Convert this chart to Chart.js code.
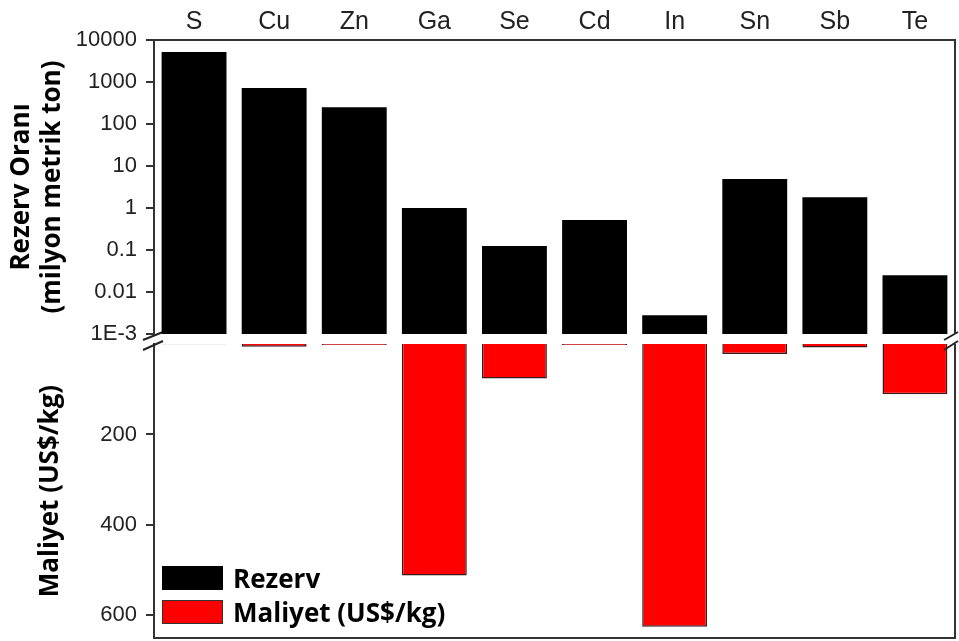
<!DOCTYPE html>
<html>
<head>
<meta charset="utf-8">
<script src="https://cdn.jsdelivr.net/npm/chart.js@4.4.1/dist/chart.umd.min.js"></script>
<style>
  html, body { margin: 0; padding: 0; background: #fff; }
  #wrap { position: relative; width: 959px; height: 641px; overflow: hidden; }
  #wrap canvas { position: absolute; left: 0; top: 0; }
  #legend { position: absolute; left: 162px; top: 561px;
            font-family: "Open Sans", Lato, sans-serif; font-weight: bold; font-size: 26px; color: #000; }
  .item { display: flex; align-items: center; height: 34px; line-height: 34px; }
  .swatch { width: 61px; height: 24px; margin-right: 10px; box-sizing: border-box; }
</style>
</head>
<body>
<div id="wrap">
  <canvas id="costChart" width="959" height="641"></canvas>
  <canvas id="reserveChart" width="959" height="641"></canvas>
  <div id="legend"></div>
</div>
<script>
// Elements along the shared category axis
const elements = ['S', 'Cu', 'Zn', 'Ga', 'Se', 'Cd', 'In', 'Sn', 'Sb', 'Te'];

// Reserves, million metric tonnes (log scale)
const reserves = [5200, 720, 250, 1.0, 0.125, 0.52, 0.0028, 4.9, 1.8, 0.025];

// Cost, US$/kg
const costs = [0.5, 6, 2, 512, 76, 2, 625, 22, 8, 111];

// Tick values and their printed labels
const reserveTicks = [0.001, 0.01, 0.1, 1, 10, 100, 1000, 10000];
const reserveTickLabels = ['1E-3', '0.01', '0.1', '1', '10', '100', '1000', '10000'];
const costTicks = [200, 400, 600];

const reserveLabel = 'Rezerv';
const costLabel = 'Maliyet (US$/kg)';
const reserveTitle = ['Rezerv Oranı', '(milyon metrik ton)'];
const costTitle = 'Maliyet (US$/kg)';

const AXIS = '#333';
const TICK_FONT = { family: '"Liberation Sans", Arial, sans-serif', size: 22 };
const TITLE_FONT = { family: '"Open Sans", Lato, sans-serif', size: 26, weight: 'bold', lineHeight: 1.2 };

// Fixed axis width, and no extra room reserved for the end labels
function fixLeftAxis(s) {
  s.width = 154;
  s.paddingTop = 0;
  s.paddingBottom = 0;
}

// Draws the right-hand edge of the plot frame
const rightEdge = {
  id: 'rightEdge',
  afterDraw(chart) {
    const { ctx, chartArea: a } = chart;
    ctx.save();
    ctx.strokeStyle = AXIS;
    ctx.lineWidth = 2;
    ctx.beginPath();
    ctx.moveTo(a.right, a.top);
    ctx.lineTo(a.right, a.bottom);
    ctx.stroke();
    ctx.restore();
  }
};

// Axis-break marks between the two panels
const breakMarks = {
  id: 'breakMarks',
  afterDraw(chart) {
    const { ctx, chartArea: a } = chart;
    ctx.save();
    ctx.strokeStyle = '#222';
    ctx.lineWidth = 2;
    [[a.left, -11, 9], [a.right, -11, 3]].forEach(([x, dx0, dx1]) => {
      [[a.top - 4, a.top - 12], [a.top + 6, a.top - 3]].forEach(([y0, y1]) => {
        ctx.beginPath();
        ctx.moveTo(x + dx0, y0);
        ctx.lineTo(x + dx1, y1);
        ctx.stroke();
      });
    });
    ctx.restore();
  }
};

// Upper panel: reserves on a logarithmic axis, categories printed on top
new Chart(document.getElementById('reserveChart'), {
  type: 'bar',
  data: {
    labels: elements,
    datasets: [{
      label: reserveLabel,
      data: reserves,
      backgroundColor: '#000',
      borderWidth: 0,
      barPercentage: 0.81,
      categoryPercentage: 1
    }]
  },
  options: {
    responsive: false,
    animation: false,
    layout: { autoPadding: false, padding: { left: 0, right: 4, top: 0, bottom: 307 } },
    plugins: { legend: { display: false }, tooltip: { enabled: false } },
    scales: {
      x: {
        position: 'top',
        grid: { drawOnChartArea: false, drawTicks: false },
        border: { display: true, color: AXIS, width: 2 },
        ticks: { font: { family: TICK_FONT.family, size: 25 }, color: '#222', padding: 3, maxRotation: 0 },
        afterFit(s) { s.height = 40; }
      },
      y: {
        type: 'logarithmic',
        min: 0.001,
        max: 10000,
        afterBuildTicks(s) { s.ticks = reserveTicks.map(v => ({ value: v })); },
        ticks: {
          font: TICK_FONT, color: '#222', padding: 9,
          callback: (v, i) => reserveTickLabels[i]
        },
        grid: { drawOnChartArea: false, drawTicks: true, tickLength: 8, color: AXIS, lineWidth: 2 },
        border: { display: true, color: AXIS, width: 2 },
        title: { display: true, text: reserveTitle, font: TITLE_FONT, color: '#000', padding: { top: 6, bottom: 0 } },
        afterFit: fixLeftAxis
      }
    }
  },
  plugins: [rightEdge]
});

// Lower panel: cost on a linear axis growing downward
new Chart(document.getElementById('costChart'), {
  type: 'bar',
  data: {
    labels: elements,
    datasets: [{
      label: costLabel,
      data: costs,
      backgroundColor: '#ff0000',
      borderColor: '#3a1a1a',
      borderWidth: 1.5,
      borderSkipped: 'start',
      barPercentage: 0.81,
      categoryPercentage: 1
    }]
  },
  options: {
    responsive: false,
    animation: false,
    layout: { autoPadding: false, padding: { left: 0, right: 4, top: 344, bottom: 3 } },
    plugins: { legend: { display: false }, tooltip: { enabled: false } },
    scales: {
      x: {
        position: 'bottom',
        grid: { drawOnChartArea: false, drawTicks: false },
        border: { display: true, color: AXIS, width: 2 },
        ticks: { display: false },
        afterFit(s) { s.height = 0; }
      },
      y: {
        type: 'linear',
        reverse: true,
        min: 0,
        max: 650,
        afterBuildTicks(s) { s.ticks = costTicks.map(v => ({ value: v })); },
        ticks: { font: TICK_FONT, color: '#222', padding: 9 },
        grid: { drawOnChartArea: false, drawTicks: true, tickLength: 8, color: AXIS, lineWidth: 2 },
        border: { display: true, color: AXIS, width: 2 },
        title: { display: true, text: costTitle, font: TITLE_FONT, color: '#000', padding: { top: 35, bottom: 0 } },
        afterFit: fixLeftAxis
      }
    }
  },
  plugins: [rightEdge, breakMarks]
});

// Legend for both series
const legend = document.getElementById('legend');
[[reserveLabel, '#000', '#000'], [costLabel, '#ff0000', '#333']].forEach(([text, fill, edge]) => {
  const item = document.createElement('div');
  item.className = 'item';
  const sw = document.createElement('span');
  sw.className = 'swatch';
  sw.style.background = fill;
  sw.style.border = '1px solid ' + edge;
  const label = document.createElement('span');
  label.textContent = text;
  item.appendChild(sw);
  item.appendChild(label);
  legend.appendChild(item);
});
</script>
</body>
</html>
